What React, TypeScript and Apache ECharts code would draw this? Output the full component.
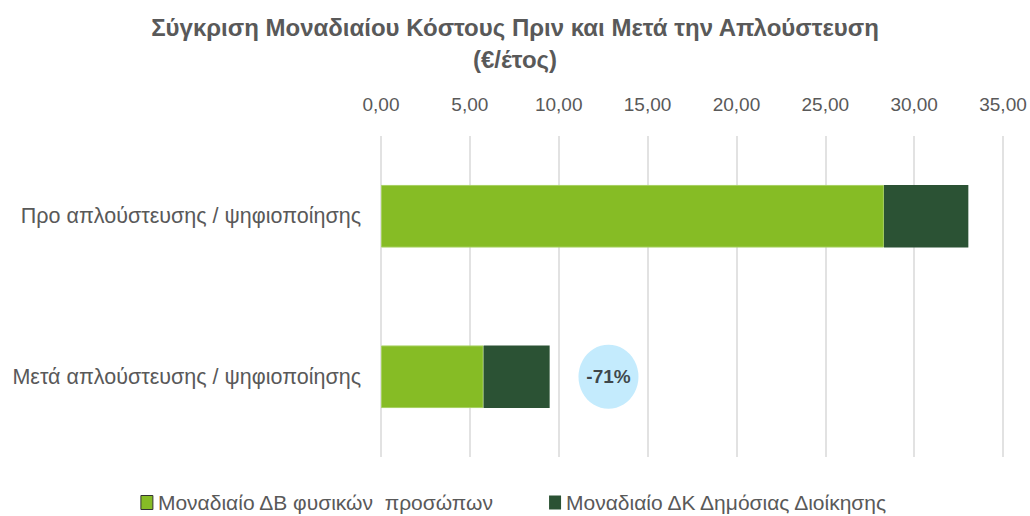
import React, { useEffect, useRef } from "react";
import * as echarts from "echarts";

const categories = ["Προ απλούστευσης / ψηφιοποίησης", "Μετά απλούστευσης / ψηφιοποίησης"];
const seriesNames = ["Μοναδιαίο ΔΒ φυσικών  προσώπων", "Μοναδιαίο ΔΚ Δημόσιας Διοίκησης"];
const citizenCost = [28.3, 5.77];
const adminCost = [4.75, 3.72];
const xTicks = { min: 0, max: 35, interval: 5 };
const bubbleX = 12.8;

const FONT = "Liberation Sans";

export default function App() {
  const ref = useRef<HTMLDivElement>(null);
  useEffect(() => {
    document.body.style.margin = "0";
    const chart = echarts.init(ref.current!, null, { renderer: "svg" });
    const totalBefore = citizenCost[0] + adminCost[0];
    const totalAfter = citizenCost[1] + adminCost[1];
    const change = Math.round(((totalAfter - totalBefore) / totalBefore) * 100);
    chart.setOption({
      animation: false,
      textStyle: { fontFamily: FONT },
      title: {
        text: "Σύγκριση Μοναδιαίου Κόστους Πριν και Μετά την Απλούστευση\n(€/έτος)",
        left: "center",
        top: 6,
        textStyle: { fontFamily: FONT, fontSize: 24, fontWeight: "bold", color: "#595959", lineHeight: 32 },
      },
      legend: {
        data: [
          { name: seriesNames[0], itemStyle: { borderColor: "#333", borderWidth: 1 } },
          { name: seriesNames[1] },
        ],
        top: 487,
        left: "center",
        itemWidth: 12,
        itemHeight: 14,
        itemGap: 55,
        icon: "rect",
        textStyle: { fontFamily: FONT, fontSize: 21, color: "#595959" },
      },
      grid: { left: 381, right: 27, top: 136, bottom: 59 },
      xAxis: {
        type: "value",
        position: "top",
        min: xTicks.min,
        max: xTicks.max,
        interval: xTicks.interval,
        axisLine: { show: false },
        axisTick: { show: false },
        splitLine: { lineStyle: { color: "#d9d9d9", width: 1.5 } },
        axisLabel: {
          color: "#595959",
          fontSize: 19,
          margin: 22,
          formatter: (v: number) => v.toFixed(2).replace(".", ","),
        },
      },
      yAxis: {
        type: "category",
        inverse: true,
        data: categories,
        axisLine: { show: false },
        axisTick: { show: false },
        axisLabel: { color: "#595959", fontSize: 21.5, margin: 20 },
      },
      series: [
        {
          name: seriesNames[0],
          type: "bar",
          stack: "total",
          barWidth: "39%",
          data: citizenCost,
          itemStyle: { color: "#86bc25", borderColor: "#a6d060", borderWidth: 1 },
        },
        {
          name: seriesNames[1],
          type: "bar",
          stack: "total",
          data: adminCost,
          itemStyle: { color: "#2b5234" },
        },
        {
          name: "change",
          type: "scatter",
          data: [[bubbleX, categories[1]]],
          symbol: "circle",
          symbolSize: [60, 64],
          itemStyle: { color: "#b5e6fd" },
          label: {
            show: true,
            position: "inside",
            formatter: () => `${change}%`,
            color: "#1a1a1a",
            fontWeight: "bold",
            fontSize: 19,
            fontFamily: FONT,
          },
          z: 5,
        },
      ],
    });
    return () => chart.dispose();
  }, []);
  return <div ref={ref} style={{ width: 1030, height: 516 }} />;
}
